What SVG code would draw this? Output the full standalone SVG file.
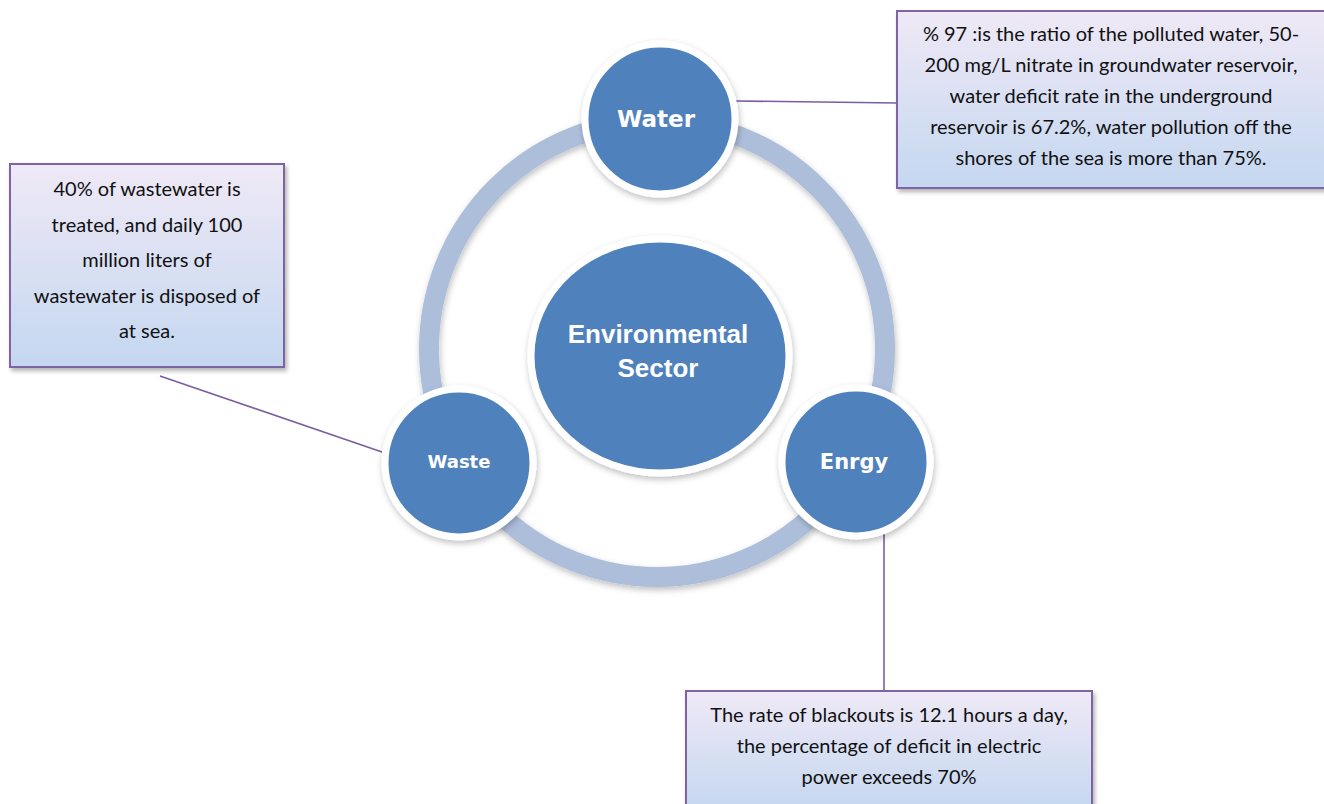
<svg xmlns="http://www.w3.org/2000/svg" width="1324" height="804" viewBox="0 0 1324 804">
<defs>
<linearGradient id="boxg" x1="0" y1="0" x2="0" y2="1">
<stop offset="0" stop-color="#efe9f6"/>
<stop offset="1" stop-color="#c4d7f0"/>
</linearGradient>
<filter id="sh" x="-20%" y="-20%" width="140%" height="140%">
<feDropShadow dx="1" dy="3" stdDeviation="3" flood-color="#000" flood-opacity="0.25"/>
</filter>
<filter id="bsh" x="-10%" y="-10%" width="120%" height="120%">
<feDropShadow dx="2" dy="3" stdDeviation="2" flood-color="#000" flood-opacity="0.3"/>
</filter>
</defs>
<style>
.box{fill:url(#boxg);stroke:#8064a2;stroke-width:2}
.txt{font-family:Lato,"Liberation Sans",sans-serif;font-size:20px;fill:#111;text-anchor:middle}
.node{fill:#4f81bd;stroke:#fff;stroke-width:7}
.lbl{font-family:"DejaVu Sans","Liberation Sans",sans-serif;font-weight:bold;fill:#fff;text-anchor:middle}
.lbl2{font-family:"Liberation Sans",sans-serif;font-weight:bold;fill:#fff;text-anchor:middle;font-size:26px}
.conn{stroke:#7a5ea0;stroke-width:1.6;fill:none}
</style>
<rect width="1324" height="804" fill="#fff"/>
<circle cx="657" cy="349" r="228" fill="none" stroke="#adbedb" stroke-width="20" filter="url(#sh)"/>
<g id="connectors">
<line class="conn" x1="736" y1="101" x2="897" y2="103"/>
<line class="conn" x1="160" y1="376" x2="382" y2="452"/>
<line class="conn" x1="884" y1="530" x2="884" y2="691"/>
</g>
<g id="center">
<ellipse class="node" cx="660" cy="356" rx="129" ry="117" filter="url(#sh)"/>
<text class="lbl2" x="658" y="343">Environmental</text>
<text class="lbl2" x="658" y="377">Sector</text>
</g>
<g id="water">
<circle class="node" cx="660" cy="119" r="75" filter="url(#sh)"/>
<text class="lbl" font-size="23" x="656" y="127">Water</text>
</g>
<g id="waste">
<circle class="node" cx="459" cy="463" r="74" filter="url(#sh)"/>
<text class="lbl" font-size="18" x="459" y="468">Waste</text>
</g>
<g id="energy">
<circle class="node" cx="856" cy="462" r="74" filter="url(#sh)"/>
<text class="lbl" font-size="21" x="854" y="469">Enrgy</text>
</g>
<g id="water-note">
<rect class="box" x="897" y="11" width="432" height="177" filter="url(#bsh)"/>
<text class="txt" x="1111" y="41">% 97 :is the ratio of the polluted water, 50-</text>
<text class="txt" x="1111" y="72">200 mg/L nitrate in groundwater reservoir,</text>
<text class="txt" x="1111" y="103">water deficit rate in the underground</text>
<text class="txt" x="1111" y="134">reservoir is 67.2%, water pollution off the</text>
<text class="txt" x="1111" y="165">shores of the sea is more than 75%.</text>
</g>
<g id="waste-note">
<rect class="box" x="10" y="164" width="274" height="203" filter="url(#bsh)"/>
<text class="txt" x="147" y="196">40% of wastewater is</text>
<text class="txt" x="147" y="232">treated, and daily 100</text>
<text class="txt" x="147" y="267">million liters of</text>
<text class="txt" x="147" y="303">wastewater is disposed of</text>
<text class="txt" x="147" y="338">at sea.</text>
</g>
<g id="energy-note">
<rect class="box" x="686" y="691" width="406" height="120" filter="url(#bsh)"/>
<text class="txt" x="889" y="722">The rate of blackouts is 12.1 hours a day,</text>
<text class="txt" x="889" y="753">the percentage of deficit in electric</text>
<text class="txt" x="889" y="784">power exceeds 70%</text>
</g>
</svg>
